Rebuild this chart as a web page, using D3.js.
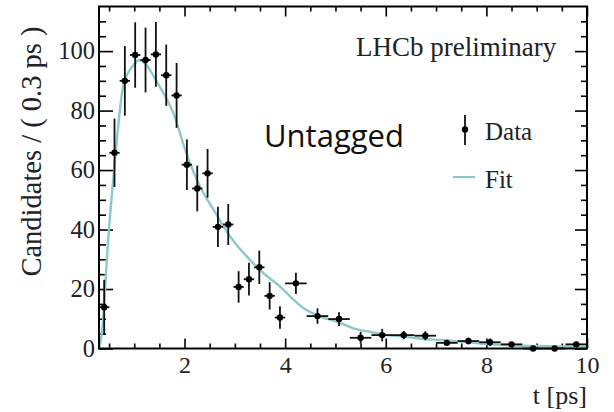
<!DOCTYPE html>
<html>
<head>
<meta charset="utf-8">
<script src="https://cdn.jsdelivr.net/npm/d3@7"></script>
<style>
  body { margin: 0; background: #fff; }
  svg { display: block; }
</style>
</head>
<body>
<svg id="chart" width="614" height="412"></svg>
<script>
// Decay-time distribution: binned data with errors and the fitted curve.
const binCenters = [0.403, 0.608, 0.814, 1.019, 1.225, 1.431, 1.636, 1.842, 2.047, 2.253,
                    2.458, 2.664, 2.869, 3.075, 3.281, 3.486, 3.692, 3.897,
                    4.214, 4.643, 5.071, 5.500, 5.929, 6.357, 6.786,
                    7.214, 7.643, 8.071, 8.500, 8.929, 9.357, 9.786];
const binHalfWidths = [0.103, 0.103, 0.103, 0.103, 0.103, 0.103, 0.103, 0.103, 0.103, 0.103,
                       0.103, 0.103, 0.103, 0.103, 0.103, 0.103, 0.103, 0.103,
                       0.214, 0.214, 0.214, 0.214, 0.214, 0.214, 0.214,
                       0.214, 0.214, 0.214, 0.214, 0.214, 0.214, 0.214];
const candidates = [13.9, 65.8, 90.0, 98.7, 97.0, 98.9, 91.9, 85.1, 61.8, 53.8,
                    58.9, 40.9, 41.7, 20.7, 23.3, 27.3, 17.7, 10.4,
                    21.9, 10.9, 9.9, 3.6, 4.5, 4.5, 4.3,
                    1.9, 2.5, 2.1, 1.4, 0, 0, 1.4];
const candidateErrors = [9.2, 11.5, 11.7, 11.0, 10.9, 10.9, 10.3, 10.9, 8.5, 7.7,
                         8.2, 6.8, 6.9, 5.3, 5.5, 5.6, 4.6, 3.8,
                         3.6, 2.6, 2.3, 2.0, 2.1, 1.4, 1.5,
                         1.0, 1.1, 1.3, 0.8, 0, 0, 0.8];

const fitT =      [0.30, 0.36, 0.48, 0.60, 0.79, 0.99, 1.09, 1.18, 1.45, 1.78, 2.05, 2.31, 2.58,
                   2.91, 3.24, 3.57, 3.90, 4.04, 4.37, 4.70, 5.03, 5.36, 5.69, 6.02, 6.35,
                   6.82, 7.08, 7.88, 8.68, 9.20, 10.0];
const fitValues = [0.0, 5.5, 36.0, 60.0, 89.0, 95.3, 97.0, 96.4, 89.7, 79.0, 65.0, 54.4, 46.6,
                   37.6, 30.9, 25.3, 20.8, 18.5, 13.5, 10.7, 9.0, 6.8, 5.6, 4.5, 4.0,
                   3.1, 2.9, 1.7, 0.9, 0.8, 0.6];

const xMajorTicks = [2, 4, 6, 8, 10];
const xMinorTicks = [0.5, 1, 1.5, 2.5, 3, 3.5, 4.5, 5, 5.5, 6.5, 7, 7.5, 8.5, 9, 9.5];
const yMajorTicks = [0, 20, 40, 60, 80, 100];
const yMinorTicks = [5, 10, 15, 25, 30, 35, 45, 50, 55, 65, 70, 75, 85, 90, 95, 105, 110];

const serif = "'Liberation Serif', 'Times New Roman', serif";
const fitColor = "#8ccaca";

const svg = d3.select("#chart");
const plotLeft = 99, plotRight = 587, plotTop = 6.5, plotBottom = 348.5;

const x = d3.scaleLinear().domain([0.3, 10]).range([plotLeft, plotRight]);
const y = d3.scaleLinear().domain([0, 115]).range([plotBottom, plotTop]);

// Axes with inward ticks on all four sides
function styleAxis(g) {
  g.select(".domain").remove();
  g.selectAll(".tick line").attr("stroke", "#000").attr("stroke-width", 1.6);
  g.selectAll("text").attr("font-family", serif).attr("fill", "#222");
}

svg.append("g").attr("transform", `translate(0,${plotBottom})`)
  .call(d3.axisBottom(x).tickValues(xMajorTicks).tickSize(-10).tickPadding(7))
  .call(styleAxis).selectAll("text").attr("font-size", 24);
svg.append("g").attr("transform", `translate(0,${plotBottom})`)
  .call(d3.axisBottom(x).tickValues(xMinorTicks).tickSize(-5).tickFormat(""))
  .call(styleAxis);
svg.append("g").attr("transform", `translate(0,${plotTop})`)
  .call(d3.axisTop(x).tickValues(xMajorTicks).tickSize(-10).tickFormat(""))
  .call(styleAxis);
svg.append("g").attr("transform", `translate(0,${plotTop})`)
  .call(d3.axisTop(x).tickValues(xMinorTicks).tickSize(-5).tickFormat(""))
  .call(styleAxis);

svg.append("g").attr("transform", `translate(${plotLeft},0)`)
  .call(d3.axisLeft(y).tickValues(yMajorTicks).tickSize(-14).tickPadding(4))
  .call(styleAxis).selectAll("text").attr("font-size", 24.5);
svg.append("g").attr("transform", `translate(${plotLeft},0)`)
  .call(d3.axisLeft(y).tickValues(yMinorTicks).tickSize(-7).tickFormat(""))
  .call(styleAxis);
svg.append("g").attr("transform", `translate(${plotRight},0)`)
  .call(d3.axisRight(y).tickValues(yMajorTicks).tickSize(-12).tickFormat(""))
  .call(styleAxis);
svg.append("g").attr("transform", `translate(${plotRight},0)`)
  .call(d3.axisRight(y).tickValues(yMinorTicks).tickSize(-6).tickFormat(""))
  .call(styleAxis);

// Fit curve
const fitPoints = fitT.map((t, i) => [t, fitValues[i]]);
svg.append("path")
  .datum(fitPoints)
  .attr("fill", "none")
  .attr("stroke", fitColor)
  .attr("stroke-width", 2.4)
  .attr("stroke-linejoin", "round")
  .attr("d", d3.line().x(d => x(d[0])).y(d => y(d[1])).curve(d3.curveMonotoneX));

// Data points with error bars
const data = binCenters.map((t, i) => ({
  t, hw: binHalfWidths[i], v: candidates[i], e: candidateErrors[i]
}));
const pts = svg.append("g").selectAll("g").data(data).join("g");
pts.append("line")
  .attr("x1", d => x(d.t - d.hw)).attr("x2", d => x(d.t + d.hw))
  .attr("y1", d => y(d.v)).attr("y2", d => y(d.v))
  .attr("stroke", "#111").attr("stroke-width", 1.8);
pts.filter(d => d.e > 0).append("line")
  .attr("x1", d => x(d.t)).attr("x2", d => x(d.t))
  .attr("y1", d => y(d.v - d.e)).attr("y2", d => y(d.v + d.e))
  .attr("stroke", "#111").attr("stroke-width", 1.8);
pts.append("circle")
  .attr("cx", d => x(d.t)).attr("cy", d => y(d.v))
  .attr("r", 3.2).attr("fill", "#000");

// Frame
svg.append("rect")
  .attr("x", plotLeft).attr("y", plotTop)
  .attr("width", plotRight - plotLeft).attr("height", plotBottom - plotTop)
  .attr("fill", "none").attr("stroke", "#000").attr("stroke-width", 2);

// Titles and labels
svg.append("text")
  .attr("transform", `translate(41,${(plotTop + plotBottom) / 2 - 26}) rotate(-90)`)
  .attr("text-anchor", "middle")
  .attr("font-family", serif).attr("font-size", 28.5).attr("fill", "#222")
  .text("Candidates / ( 0.3 ps )");

svg.append("text")
  .attr("x", plotRight).attr("y", 404)
  .attr("text-anchor", "end")
  .attr("font-family", serif).attr("font-size", 26).attr("fill", "#222")
  .text("t [ps]");

svg.append("text")
  .attr("x", 356).attr("y", 56)
  .attr("font-family", serif).attr("font-size", 27).attr("fill", "#222")
  .text("LHCb preliminary");

svg.append("text")
  .attr("x", 264).attr("y", 147)
  .attr("font-family", "'Open Sans', sans-serif").attr("font-size", 31).attr("fill", "#111")
  .text("Untagged");

// Legend
const legend = svg.append("g");
legend.append("line")
  .attr("x1", 465).attr("x2", 465).attr("y1", 115).attr("y2", 145)
  .attr("stroke", "#111").attr("stroke-width", 1.8);
legend.append("circle").attr("cx", 465).attr("cy", 129.5).attr("r", 3.2).attr("fill", "#000");
legend.append("text")
  .attr("x", 485).attr("y", 140)
  .attr("font-family", serif).attr("font-size", 25).attr("fill", "#222")
  .text("Data");
legend.append("line")
  .attr("x1", 453).attr("x2", 475).attr("y1", 177).attr("y2", 177)
  .attr("stroke", fitColor).attr("stroke-width", 2);
legend.append("text")
  .attr("x", 485).attr("y", 188)
  .attr("font-family", serif).attr("font-size", 25).attr("fill", "#222")
  .text("Fit");
</script>
</body>
</html>
